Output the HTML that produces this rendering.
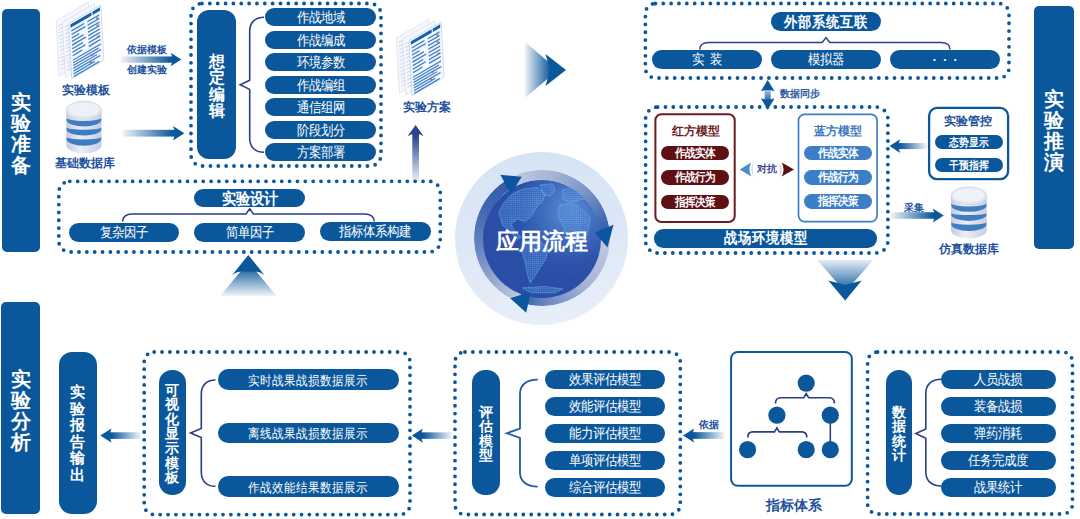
<!DOCTYPE html>
<html><head><meta charset="utf-8"><style>
*{margin:0;padding:0;box-sizing:border-box}
html,body{width:1080px;height:519px;overflow:hidden;background:#fff;font-family:"Liberation Sans",sans-serif}
#c{position:relative;width:1080px;height:519px}
svg{position:absolute;left:0;top:0}
.p{position:absolute;display:flex;align-items:center;justify-content:center;white-space:nowrap;line-height:1}
.vb{position:absolute}
.s{display:inline-block;transform:translateY(0.7px) scaleY(1.13)}
.ch{position:absolute;text-align:center;color:#fff;font-weight:bold}
.lb{position:absolute;text-align:center;white-space:nowrap}
</style></head><body><div id="c">
<svg width="1080" height="519" viewBox="0 0 1080 519"><defs><linearGradient id="g1" gradientUnits="userSpaceOnUse" x1="120.9" y1="0" x2="170.70000000000002" y2="0"><stop offset="0" stop-color="#0b579b" stop-opacity="0.06"/><stop offset="1" stop-color="#0b579b" stop-opacity="1"/></linearGradient><linearGradient id="g2" gradientUnits="userSpaceOnUse" x1="122.6" y1="0" x2="173.0" y2="0"><stop offset="0" stop-color="#0b579b" stop-opacity="0.06"/><stop offset="1" stop-color="#0b579b" stop-opacity="1"/></linearGradient><linearGradient id="g3" gradientUnits="userSpaceOnUse" x1="0" y1="181.4" x2="0" y2="136"><stop offset="0" stop-color="#29468f" stop-opacity="0.08"/><stop offset="1" stop-color="#29468f" stop-opacity="1"/></linearGradient><linearGradient id="g4" gradientUnits="userSpaceOnUse" x1="0" y1="268" x2="0" y2="296"><stop offset="0" stop-color="#0b579b" stop-opacity="0.95"/><stop offset="1" stop-color="#0b579b" stop-opacity="0.06"/></linearGradient><linearGradient id="g5" gradientUnits="userSpaceOnUse" x1="525" y1="0" x2="551" y2="0"><stop offset="0" stop-color="#0b579b" stop-opacity="0.07"/><stop offset="1" stop-color="#0b579b" stop-opacity="1"/></linearGradient><linearGradient id="g6" gradientUnits="userSpaceOnUse" x1="0" y1="89" x2="0" y2="100"><stop offset="0" stop-color="#b4c8e3" stop-opacity="1"/><stop offset="1" stop-color="#3f6fb2" stop-opacity="1"/></linearGradient><linearGradient id="g7" gradientUnits="userSpaceOnUse" x1="926.8" y1="0" x2="900.2" y2="0"><stop offset="0" stop-color="#0b579b" stop-opacity="0.06"/><stop offset="1" stop-color="#0b579b" stop-opacity="1"/></linearGradient><linearGradient id="g8" gradientUnits="userSpaceOnUse" x1="890.4" y1="0" x2="932.8" y2="0"><stop offset="0" stop-color="#0b579b" stop-opacity="0.06"/><stop offset="1" stop-color="#0b579b" stop-opacity="1"/></linearGradient><linearGradient id="g9" gradientUnits="userSpaceOnUse" x1="0" y1="259.7" x2="0" y2="292"><stop offset="0" stop-color="#0b579b" stop-opacity="0.1"/><stop offset="1" stop-color="#0b579b" stop-opacity="1"/></linearGradient><linearGradient id="g10" gradientUnits="userSpaceOnUse" x1="140.8" y1="0" x2="111.6" y2="0"><stop offset="0" stop-color="#0b579b" stop-opacity="0.06"/><stop offset="1" stop-color="#0b579b" stop-opacity="1"/></linearGradient><linearGradient id="g11" gradientUnits="userSpaceOnUse" x1="451.8" y1="0" x2="422.9" y2="0"><stop offset="0" stop-color="#0b579b" stop-opacity="0.06"/><stop offset="1" stop-color="#0b579b" stop-opacity="1"/></linearGradient><linearGradient id="g12" gradientUnits="userSpaceOnUse" x1="724.5" y1="0" x2="694.1999999999999" y2="0"><stop offset="0" stop-color="#0b579b" stop-opacity="0.06"/><stop offset="1" stop-color="#0b579b" stop-opacity="1"/></linearGradient></defs>
<g transform="matrix(1.07,-0.62,0.055,1.005,56.2,20.9)"><rect x="0" y="0" width="30" height="55" fill="#f5f7fc" stroke="#d5ddef" stroke-width="0.6"/><line x1="2" y1="6.0" x2="8.0" y2="6.0" stroke="#c3cfe8" stroke-width="0.9"/><line x1="2" y1="9.6" x2="9.5" y2="9.6" stroke="#c3cfe8" stroke-width="0.9"/><line x1="2" y1="13.2" x2="11.0" y2="13.2" stroke="#c3cfe8" stroke-width="0.9"/><line x1="2" y1="16.8" x2="8.0" y2="16.8" stroke="#c3cfe8" stroke-width="0.9"/><line x1="2" y1="20.4" x2="9.5" y2="20.4" stroke="#c3cfe8" stroke-width="0.9"/><line x1="2" y1="24.0" x2="11.0" y2="24.0" stroke="#c3cfe8" stroke-width="0.9"/><line x1="2" y1="27.6" x2="8.0" y2="27.6" stroke="#c3cfe8" stroke-width="0.9"/><line x1="2" y1="31.2" x2="9.5" y2="31.2" stroke="#c3cfe8" stroke-width="0.9"/><line x1="2" y1="34.8" x2="11.0" y2="34.8" stroke="#c3cfe8" stroke-width="0.9"/><line x1="2" y1="38.4" x2="8.0" y2="38.4" stroke="#c3cfe8" stroke-width="0.9"/><line x1="2" y1="42.0" x2="9.5" y2="42.0" stroke="#c3cfe8" stroke-width="0.9"/><line x1="2" y1="45.6" x2="11.0" y2="45.6" stroke="#c3cfe8" stroke-width="0.9"/><line x1="2" y1="49.2" x2="8.0" y2="49.2" stroke="#c3cfe8" stroke-width="0.9"/></g><g transform="matrix(1.07,-0.62,0.055,1.005,62.400000000000006,22.3)"><rect x="0" y="0" width="30" height="55" fill="#f5f7fc" stroke="#d5ddef" stroke-width="0.6"/><line x1="2" y1="6.0" x2="8.0" y2="6.0" stroke="#c3cfe8" stroke-width="0.9"/><line x1="2" y1="9.6" x2="9.5" y2="9.6" stroke="#c3cfe8" stroke-width="0.9"/><line x1="2" y1="13.2" x2="11.0" y2="13.2" stroke="#c3cfe8" stroke-width="0.9"/><line x1="2" y1="16.8" x2="8.0" y2="16.8" stroke="#c3cfe8" stroke-width="0.9"/><line x1="2" y1="20.4" x2="9.5" y2="20.4" stroke="#c3cfe8" stroke-width="0.9"/><line x1="2" y1="24.0" x2="11.0" y2="24.0" stroke="#c3cfe8" stroke-width="0.9"/><line x1="2" y1="27.6" x2="8.0" y2="27.6" stroke="#c3cfe8" stroke-width="0.9"/><line x1="2" y1="31.2" x2="9.5" y2="31.2" stroke="#c3cfe8" stroke-width="0.9"/><line x1="2" y1="34.8" x2="11.0" y2="34.8" stroke="#c3cfe8" stroke-width="0.9"/><line x1="2" y1="38.4" x2="8.0" y2="38.4" stroke="#c3cfe8" stroke-width="0.9"/><line x1="2" y1="42.0" x2="9.5" y2="42.0" stroke="#c3cfe8" stroke-width="0.9"/><line x1="2" y1="45.6" x2="11.0" y2="45.6" stroke="#c3cfe8" stroke-width="0.9"/><line x1="2" y1="49.2" x2="8.0" y2="49.2" stroke="#c3cfe8" stroke-width="0.9"/></g><g transform="matrix(1.07,-0.62,0.055,1.005,68.7,23.5)"><rect x="0" y="0" width="30" height="55" fill="#f6f8fc" stroke="#c3cde6" stroke-width="0.6"/><rect x="1.5" y="1.8" width="19.5" height="3.4" fill="#1361ad"/><rect x="22" y="1.8" width="7" height="3.4" fill="#1361ad"/><rect x="2" y="8.0" width="12" height="1.5" fill="#3f82cc"/><rect x="2" y="11.5" width="13" height="1.5" fill="#3f82cc"/><rect x="2" y="15.0" width="7" height="1.5" fill="#3f82cc"/><rect x="2" y="18.5" width="11" height="1.5" fill="#3f82cc"/><rect x="2" y="22.0" width="13" height="1.5" fill="#3f82cc"/><rect x="2" y="25.5" width="10" height="1.5" fill="#3f82cc"/><rect x="2" y="29.0" width="12" height="1.5" fill="#3f82cc"/><rect x="2" y="32.5" width="9" height="1.5" fill="#3f82cc"/><rect x="17" y="8.0" width="11" height="1.5" fill="#3f82cc"/><rect x="17" y="11.5" width="11" height="1.5" fill="#3f82cc"/><rect x="17" y="15.0" width="11" height="1.5" fill="#3f82cc"/><rect x="17" y="18.5" width="11" height="1.5" fill="#3f82cc"/><rect x="17" y="22.0" width="11" height="1.5" fill="#3f82cc"/><rect x="17" y="25.5" width="11" height="1.5" fill="#3f82cc"/><rect x="17" y="29.0" width="11" height="1.5" fill="#3f82cc"/><rect x="17" y="32.5" width="11" height="1.5" fill="#3f82cc"/><rect x="2" y="37.0" width="26" height="1.4" fill="#3f82cc"/><rect x="2" y="39.7" width="24" height="1.4" fill="#3f82cc"/><rect x="2" y="42.4" width="26" height="1.4" fill="#3f82cc"/><rect x="2" y="45.1" width="22" height="1.4" fill="#3f82cc"/><rect x="2" y="47.8" width="25" height="1.4" fill="#3f82cc"/><rect x="2" y="50.5" width="20" height="1.4" fill="#3f82cc"/><rect x="2" y="53.2" width="24" height="1.4" fill="#3f82cc"/><rect x="25" y="10" width="2" height="1.2" fill="#d05050"/><rect x="25" y="17" width="2" height="1.2" fill="#d05050"/><rect x="25" y="28" width="2" height="1.2" fill="#d05050"/><rect x="19" y="43" width="2" height="1.2" fill="#d05050"/><rect x="17" y="49" width="2" height="1.2" fill="#d05050"/></g>
<g transform="matrix(1.07,-0.62,0.055,1.005,396.5,37.9)"><rect x="0" y="0" width="30" height="55" fill="#f5f7fc" stroke="#d5ddef" stroke-width="0.6"/><line x1="2" y1="6.0" x2="8.0" y2="6.0" stroke="#c3cfe8" stroke-width="0.9"/><line x1="2" y1="9.6" x2="9.5" y2="9.6" stroke="#c3cfe8" stroke-width="0.9"/><line x1="2" y1="13.2" x2="11.0" y2="13.2" stroke="#c3cfe8" stroke-width="0.9"/><line x1="2" y1="16.8" x2="8.0" y2="16.8" stroke="#c3cfe8" stroke-width="0.9"/><line x1="2" y1="20.4" x2="9.5" y2="20.4" stroke="#c3cfe8" stroke-width="0.9"/><line x1="2" y1="24.0" x2="11.0" y2="24.0" stroke="#c3cfe8" stroke-width="0.9"/><line x1="2" y1="27.6" x2="8.0" y2="27.6" stroke="#c3cfe8" stroke-width="0.9"/><line x1="2" y1="31.2" x2="9.5" y2="31.2" stroke="#c3cfe8" stroke-width="0.9"/><line x1="2" y1="34.8" x2="11.0" y2="34.8" stroke="#c3cfe8" stroke-width="0.9"/><line x1="2" y1="38.4" x2="8.0" y2="38.4" stroke="#c3cfe8" stroke-width="0.9"/><line x1="2" y1="42.0" x2="9.5" y2="42.0" stroke="#c3cfe8" stroke-width="0.9"/><line x1="2" y1="45.6" x2="11.0" y2="45.6" stroke="#c3cfe8" stroke-width="0.9"/><line x1="2" y1="49.2" x2="8.0" y2="49.2" stroke="#c3cfe8" stroke-width="0.9"/></g><g transform="matrix(1.07,-0.62,0.055,1.005,402.7,39.3)"><rect x="0" y="0" width="30" height="55" fill="#f5f7fc" stroke="#d5ddef" stroke-width="0.6"/><line x1="2" y1="6.0" x2="8.0" y2="6.0" stroke="#c3cfe8" stroke-width="0.9"/><line x1="2" y1="9.6" x2="9.5" y2="9.6" stroke="#c3cfe8" stroke-width="0.9"/><line x1="2" y1="13.2" x2="11.0" y2="13.2" stroke="#c3cfe8" stroke-width="0.9"/><line x1="2" y1="16.8" x2="8.0" y2="16.8" stroke="#c3cfe8" stroke-width="0.9"/><line x1="2" y1="20.4" x2="9.5" y2="20.4" stroke="#c3cfe8" stroke-width="0.9"/><line x1="2" y1="24.0" x2="11.0" y2="24.0" stroke="#c3cfe8" stroke-width="0.9"/><line x1="2" y1="27.6" x2="8.0" y2="27.6" stroke="#c3cfe8" stroke-width="0.9"/><line x1="2" y1="31.2" x2="9.5" y2="31.2" stroke="#c3cfe8" stroke-width="0.9"/><line x1="2" y1="34.8" x2="11.0" y2="34.8" stroke="#c3cfe8" stroke-width="0.9"/><line x1="2" y1="38.4" x2="8.0" y2="38.4" stroke="#c3cfe8" stroke-width="0.9"/><line x1="2" y1="42.0" x2="9.5" y2="42.0" stroke="#c3cfe8" stroke-width="0.9"/><line x1="2" y1="45.6" x2="11.0" y2="45.6" stroke="#c3cfe8" stroke-width="0.9"/><line x1="2" y1="49.2" x2="8.0" y2="49.2" stroke="#c3cfe8" stroke-width="0.9"/></g><g transform="matrix(1.07,-0.62,0.055,1.005,409.0,40.5)"><rect x="0" y="0" width="30" height="55" fill="#f6f8fc" stroke="#c3cde6" stroke-width="0.6"/><rect x="1.5" y="1.8" width="19.5" height="3.4" fill="#1361ad"/><rect x="22" y="1.8" width="7" height="3.4" fill="#1361ad"/><rect x="2" y="8.0" width="12" height="1.5" fill="#3f82cc"/><rect x="2" y="11.5" width="13" height="1.5" fill="#3f82cc"/><rect x="2" y="15.0" width="7" height="1.5" fill="#3f82cc"/><rect x="2" y="18.5" width="11" height="1.5" fill="#3f82cc"/><rect x="2" y="22.0" width="13" height="1.5" fill="#3f82cc"/><rect x="2" y="25.5" width="10" height="1.5" fill="#3f82cc"/><rect x="2" y="29.0" width="12" height="1.5" fill="#3f82cc"/><rect x="2" y="32.5" width="9" height="1.5" fill="#3f82cc"/><rect x="17" y="8.0" width="11" height="1.5" fill="#3f82cc"/><rect x="17" y="11.5" width="11" height="1.5" fill="#3f82cc"/><rect x="17" y="15.0" width="11" height="1.5" fill="#3f82cc"/><rect x="17" y="18.5" width="11" height="1.5" fill="#3f82cc"/><rect x="17" y="22.0" width="11" height="1.5" fill="#3f82cc"/><rect x="17" y="25.5" width="11" height="1.5" fill="#3f82cc"/><rect x="17" y="29.0" width="11" height="1.5" fill="#3f82cc"/><rect x="17" y="32.5" width="11" height="1.5" fill="#3f82cc"/><rect x="2" y="37.0" width="26" height="1.4" fill="#3f82cc"/><rect x="2" y="39.7" width="24" height="1.4" fill="#3f82cc"/><rect x="2" y="42.4" width="26" height="1.4" fill="#3f82cc"/><rect x="2" y="45.1" width="22" height="1.4" fill="#3f82cc"/><rect x="2" y="47.8" width="25" height="1.4" fill="#3f82cc"/><rect x="2" y="50.5" width="20" height="1.4" fill="#3f82cc"/><rect x="2" y="53.2" width="24" height="1.4" fill="#3f82cc"/><rect x="25" y="10" width="2" height="1.2" fill="#d05050"/><rect x="25" y="17" width="2" height="1.2" fill="#d05050"/><rect x="25" y="28" width="2" height="1.2" fill="#d05050"/><rect x="19" y="43" width="2" height="1.2" fill="#d05050"/><rect x="17" y="49" width="2" height="1.2" fill="#d05050"/></g>
<g transform="translate(66.3,101.1) scale(0.978,1.000)"><defs><linearGradient id="dbs" x1="0" x2="1" y1="0" y2="0"><stop offset="0" stop-color="#c3cae2"/><stop offset="0.4" stop-color="#eceff7"/><stop offset="1" stop-color="#c6cce3"/></linearGradient></defs><path d="M0,9 L0,44 A18,8.3 0 0 0 36,44 L36,9 Z" fill="url(#dbs)"/><path d="M0.3,16.7 A17.7,3.1999999999999993 0 0 0 35.7,16.7 L35.7,18.9 A17.7,6.400000000000002 0 0 1 0.3,18.9 Z" fill="#3f7dc1"/><path d="M0.3,26.4 A17.7,2.200000000000003 0 0 0 35.7,26.4 L35.7,28.4 A17.7,6.100000000000001 0 0 1 0.3,28.4 Z" fill="#3f7dc1"/><path d="M0.3,35.9 A17.7,2.3999999999999986 0 0 0 35.7,35.9 L35.7,37.9 A17.7,6.800000000000004 0 0 1 0.3,37.9 Z" fill="#3f7dc1"/><ellipse cx="18" cy="9" rx="18" ry="9" fill="#e3e6f2" stroke="#d0d6ea" stroke-width="0.8"/><ellipse cx="18" cy="8.4" rx="15.5" ry="7" fill="#eff1f8"/></g>
<g transform="translate(951,186.9) scale(0.994,0.985)"><defs><linearGradient id="dbs" x1="0" x2="1" y1="0" y2="0"><stop offset="0" stop-color="#c3cae2"/><stop offset="0.4" stop-color="#eceff7"/><stop offset="1" stop-color="#c6cce3"/></linearGradient></defs><path d="M0,9 L0,44 A18,8.3 0 0 0 36,44 L36,9 Z" fill="url(#dbs)"/><path d="M0.3,16.7 A17.7,3.1999999999999993 0 0 0 35.7,16.7 L35.7,18.9 A17.7,6.400000000000002 0 0 1 0.3,18.9 Z" fill="#3f7dc1"/><path d="M0.3,26.4 A17.7,2.200000000000003 0 0 0 35.7,26.4 L35.7,28.4 A17.7,6.100000000000001 0 0 1 0.3,28.4 Z" fill="#3f7dc1"/><path d="M0.3,35.9 A17.7,2.3999999999999986 0 0 0 35.7,35.9 L35.7,37.9 A17.7,6.800000000000004 0 0 1 0.3,37.9 Z" fill="#3f7dc1"/><ellipse cx="18" cy="9" rx="18" ry="9" fill="#e3e6f2" stroke="#d0d6ea" stroke-width="0.8"/><ellipse cx="18" cy="8.4" rx="15.5" ry="7" fill="#eff1f8"/></g>
<rect x="120.9" y="56.45" width="53.80000000000001" height="6.3" fill="url(#g1)"/>
<polygon points="170.70000000000002,52.85 181.3,59.6 170.70000000000002,66.35 173.20000000000002,59.6" fill="#0b579b"/>
<rect x="122.6" y="129.79999999999998" width="54.400000000000006" height="6.8" fill="url(#g2)"/>
<polygon points="173.0,125.94999999999999 184.4,133.2 173.0,140.45 175.5,133.2" fill="#0b579b"/>
<rect x="191.0" y="3.5" width="190.0" height="162.5" rx="11" fill="none" stroke="#0b579b" stroke-width="3.8" stroke-dasharray="0 7.85" stroke-linecap="round"/>
<path d="M264,17.3 C254.70499999999998,17.3 249.7,22.900000000000002 249.7,31.3 L249.7,80.2 L240.2,84.8 L249.7,89.39999999999999 L249.7,138.3 C249.7,146.70000000000002 254.70499999999998,152.3 264,152.3" fill="none" stroke="#2a3f86" stroke-width="1.6" stroke-linejoin="miter"/>
<rect x="412.3" y="133" width="6.7" height="48.4" fill="url(#g3)"/>
<path d="M415.6,125 L423.6,136.2 Q419.5,133.8 415.6,133.8 Q411.7,133.8 407.6,136.2 Z" fill="#29468f"/>
<rect x="58.8" y="181.3" width="381.5" height="70.7" rx="11" fill="none" stroke="#0b579b" stroke-width="3.8" stroke-dasharray="0 7.85" stroke-linecap="round"/>
<path d="M122.7,221.5 C122.7,216.56 126.75,213.9 131.7,213.9 L245.89999999999998,213.9 L249.7,208.8 L253.5,213.9 L365.2,213.9 C370.15,213.9 374.2,216.56 374.2,221.5" fill="none" stroke="#2a3f86" stroke-width="1.5"/>
<polygon points="248.3,262 276.6,296 220.3,296" fill="url(#g4)"/>
<path d="M248.3,255 L264.8,275.6 Q261,271.8 255.6,271.4 L241,271.4 Q235.6,271.8 231.8,275.6 Z" fill="#0b579b"/>
<polygon points="525,42 558,70 525,98" fill="url(#g5)"/>
<polygon points="545.5,54 566,70 545.5,86 550,70" fill="#0b579b"/>
<rect x="645.4" y="3.5" width="363.6" height="74.5" rx="10" fill="none" stroke="#0b579b" stroke-width="3.8" stroke-dasharray="0 7.85" stroke-linecap="round"/>
<path d="M699.7,49.5 C699.7,44.885 703.75,42.4 708.7,42.4 L822.2,42.4 L826,37.6 L829.8,42.4 L941,42.4 C945.95,42.4 950,44.885 950,49.5" fill="none" stroke="#2a3f86" stroke-width="1.5"/>
<rect x="764.6" y="89" width="6.2" height="11" fill="url(#g6)"/>
<path d="M767.7,80 L774.6,91.2 Q767.7,88.6 760.8,91.2 Z" fill="#0b579b"/>
<path d="M767.7,109.7 L774.6,98.2 Q767.7,100.8 760.8,98.2 Z" fill="#0b579b"/>
<rect x="645.6" y="107.0" width="242.3" height="146.0" rx="12" fill="none" stroke="#0b579b" stroke-width="3.8" stroke-dasharray="0 7.85" stroke-linecap="round"/>
<rect x="655.4" y="114.3" width="79.3" height="107.7" rx="6" fill="#fff" stroke="#6e1b1f" stroke-width="2"/>
<rect x="798.5" y="114.3" width="78.6" height="107.3" rx="6" fill="#fff" stroke="#3d7fc4" stroke-width="1.7"/>
<path d="M739.8,169.5 L751.2,162.6 Q747.6,169.5 751.2,176.4 Z" fill="#4a8ad0"/>
<path d="M754,162.3 Q748.6,169.5 754,176.7 Q751.2,169.5 754,162.3 Z" fill="#c2d7ef"/>
<path d="M794,169.5 L781.7,162.5 Q785.3,169.5 781.7,176.6 Z" fill="#5e0f14"/>
<path d="M779,162.3 Q784.4,169.5 779,176.7 Q781.8,169.5 779,162.3 Z" fill="#dcbdb6"/>
<rect x="929.1" y="107.9" width="79" height="71.3" rx="8" fill="#fff" stroke="#0b579b" stroke-width="2.3"/>
<rect x="896.2" y="143.1" width="30.59999999999991" height="6" fill="url(#g7)"/>
<polygon points="900.2,139.15 889.5,146.1 900.2,153.04999999999998 897.7,146.1" fill="#0b579b"/>
<rect x="890.4" y="212.25" width="46.39999999999998" height="6.5" fill="url(#g8)"/>
<polygon points="932.8,208.4 943.8,215.5 932.8,222.6 935.3,215.5" fill="#0b579b"/>
<polygon points="816.9,259.7 873.5,259.7 845.2,292" fill="url(#g9)"/>
<polygon points="828.3,280.4 845.2,285 861.8,280.4 845.2,300.6" fill="#0b579b"/>
<rect x="107.6" y="432.3" width="33.20000000000002" height="6.6" fill="url(#g10)"/>
<polygon points="111.6,428.55 100.3,435.6 111.6,442.65000000000003 109.1,435.6" fill="#0b579b"/>
<rect x="144.2" y="352.0" width="265.8" height="162.6" rx="10" fill="none" stroke="#0b579b" stroke-width="3.8" stroke-dasharray="0 7.85" stroke-linecap="round"/>
<path d="M215.5,380 C206.27,380 201.3,385.6 201.3,394 L201.3,428.4 L190.5,433 L201.3,437.6 L201.3,472.3 C201.3,480.7 206.27,486.3 215.5,486.3" fill="none" stroke="#2a3f86" stroke-width="1.6" stroke-linejoin="miter"/>
<rect x="418.9" y="432.35" width="32.900000000000034" height="6.5" fill="url(#g11)"/>
<polygon points="422.9,428.55 411.9,435.6 422.9,442.65000000000003 420.4,435.6" fill="#0b579b"/>
<rect x="455.0" y="352.0" width="225.3" height="162.5" rx="10" fill="none" stroke="#0b579b" stroke-width="3.8" stroke-dasharray="0 7.85" stroke-linecap="round"/>
<path d="M537.7,379.7 C526.195,379.7 520,385.3 520,393.7 L520,428.59999999999997 L506.9,433.2 L520,437.8 L520,472.6 C520,481.0 526.195,486.6 537.7,486.6" fill="none" stroke="#1f5ca8" stroke-width="1.8" stroke-linejoin="miter"/>
<rect x="690.1999999999999" y="432.15" width="34.30000000000007" height="6.7" fill="url(#g12)"/>
<polygon points="694.1999999999999,428.45 682.9,435.5 694.1999999999999,442.55 691.6999999999999,435.5" fill="#0b579b"/>
<rect x="731.1" y="351.9" width="120.7" height="133.9" rx="6.7" fill="#fff" stroke="#0b579b" stroke-width="2"/>
<path d="M775.5,403.5 C775.5,399.73 777.75,397.7 780.5,397.7 L803.8000000000001,397.7 L806.2,393.6 L808.6,397.7 L829.4,397.7 C832.15,397.7 834.4,399.73 834.4,403.5" fill="none" stroke="#2a3f86" stroke-width="1.6"/>
<path d="M747.8,437.5 C747.8,433.85999999999996 750.05,431.9 752.8,431.9 L774.5,431.9 L776.9,427.8 L779.3,431.9 L801.8,431.9 C804.55,431.9 806.8,433.85999999999996 806.8,437.5" fill="none" stroke="#2a3f86" stroke-width="1.6"/>
<line x1="830.3" y1="415" x2="830.3" y2="450" stroke="#2a3f86" stroke-width="1.6"/>
<circle cx="806.2" cy="383.1" r="8.6" fill="#0b579b"/>
<circle cx="776.9" cy="415.2" r="8.6" fill="#0b579b"/>
<circle cx="830.3" cy="415.2" r="8.6" fill="#0b579b"/>
<circle cx="747.6" cy="449.7" r="8.6" fill="#0b579b"/>
<circle cx="806.2" cy="449.7" r="8.6" fill="#0b579b"/>
<circle cx="830.3" cy="449.7" r="8.6" fill="#0b579b"/>
<rect x="867.6" y="352.0" width="204.9" height="162.0" rx="10" fill="none" stroke="#0b579b" stroke-width="3.8" stroke-dasharray="0 7.85" stroke-linecap="round"/>
<path d="M941.4,379.3 C931.26,379.3 925.8,384.90000000000003 925.8,393.3 L925.8,429.0 L915.9,433.6 L925.8,438.20000000000005 L925.8,472 C925.8,480.4 931.26,486 941.4,486" fill="none" stroke="#2a3f86" stroke-width="1.6" stroke-linejoin="miter"/>
</svg>
<div style="position:absolute;left:455.0px;top:151.9px;width:173.2px;height:173.2px;border-radius:50%;background:linear-gradient(160deg, rgba(235,241,250,0) 55%, rgba(236,242,250,0.55) 100%), radial-gradient(circle at 50% 50%, rgba(255,255,255,0) 86%, rgba(140,185,235,0.6) 97%, rgba(165,200,238,0.45) 100%), linear-gradient(to bottom, #d5e4f5, #e4ecf8)"></div>
<div style="position:absolute;left:473.6px;top:170.4px;width:136px;height:136px;border-radius:50%;background:conic-gradient(from 335deg, #bfc8de 0.0deg, #a3b3d4 37.0deg, #7a93c6 69.4deg, #4067b0 100.8deg, #2f59a8 112.0deg, #c3cce1 112.0deg, #a5b4d5 162.8deg, #7089c0 200.1deg, #3f66b0 218.2deg, #2f59a8 225.0deg, #c0cae0 225.0deg, #a3b3d4 245.2deg, #6f8cc2 279.0deg, #4468b2 319.5deg, #2f59a8 360.0deg);-webkit-mask:radial-gradient(circle, transparent 58.1px, #000 58.6px);mask:radial-gradient(circle, transparent 58.1px, #000 58.6px)"></div>
<div style="position:absolute;left:482.79999999999995px;top:179.5px;width:118px;height:118px;border-radius:50%;background:radial-gradient(circle at 74% 26%, rgba(125,180,236,0.62) 0%, rgba(95,150,222,0.38) 24%, rgba(70,120,205,0.12) 42%, rgba(60,110,200,0) 55%), radial-gradient(circle at 50% 50%, #2a4fa8 0%, #2a4ea6 78%, #2f5ab0 90%, #3e74c2 97%, #4d88cf 100%)"></div>
<svg width="1080" height="519" viewBox="0 0 1080 519" style="position:absolute;left:0;top:0"><defs><clipPath id="gc"><circle cx="541.8" cy="238.5" r="59"/></clipPath><pattern id="gdots" width="2.1" height="2.1" patternUnits="userSpaceOnUse"><circle cx="1.05" cy="1.05" r="0.6" fill="#8fd0ff"/></pattern></defs><g clip-path="url(#gc)"><polygon points="498.8,212.6 503.8,202.6 512.6,193.8 523.9,188.8 537.6,187.5 545.2,193.8 542.7,201.3 536.4,207.6 531.4,216.4 525.1,221.4 517.6,218.9 511.3,223.9 513.8,230.1 521.4,237.7 517.6,238.9 508.8,231.4 502.6,225.1" fill="#4a82cf" fill-opacity="0.38"/><polygon points="540.2,185.0 552.7,183.8 555.2,190.0 550.2,196.3 543.9,195.1" fill="#4a82cf" fill-opacity="0.38"/><polygon points="562.7,190.0 575.2,186.3 585.3,190.0 590.3,197.6 579.0,200.1 570.2,202.6 562.7,198.8" fill="#4a82cf" fill-opacity="0.38"/><polygon points="560.2,205.1 572.7,203.8 582.8,210.1 590.3,217.6 587.8,232.6 580.3,245.2 575.2,250.2 569.0,242.7 565.2,230.1 560.2,220.1 557.7,212.6" fill="#4a82cf" fill-opacity="0.38"/><polygon points="522.6,241.4 537.6,238.9 547.7,247.7 546.4,257.7 540.2,267.7 533.9,277.8 530.1,282.8 527.6,275.3 525.1,262.7 521.4,250.2" fill="#4a82cf" fill-opacity="0.38"/><polygon points="522.6,287.8 545.2,286.5 562.7,289.0 555.2,292.8 530.1,292.8" fill="#4a82cf" fill-opacity="0.38"/><polygon points="498.8,212.6 503.8,202.6 512.6,193.8 523.9,188.8 537.6,187.5 545.2,193.8 542.7,201.3 536.4,207.6 531.4,216.4 525.1,221.4 517.6,218.9 511.3,223.9 513.8,230.1 521.4,237.7 517.6,238.9 508.8,231.4 502.6,225.1" fill="url(#gdots)" fill-opacity="0.45"/><polygon points="540.2,185.0 552.7,183.8 555.2,190.0 550.2,196.3 543.9,195.1" fill="url(#gdots)" fill-opacity="0.45"/><polygon points="562.7,190.0 575.2,186.3 585.3,190.0 590.3,197.6 579.0,200.1 570.2,202.6 562.7,198.8" fill="url(#gdots)" fill-opacity="0.45"/><polygon points="560.2,205.1 572.7,203.8 582.8,210.1 590.3,217.6 587.8,232.6 580.3,245.2 575.2,250.2 569.0,242.7 565.2,230.1 560.2,220.1 557.7,212.6" fill="url(#gdots)" fill-opacity="0.45"/><polygon points="522.6,241.4 537.6,238.9 547.7,247.7 546.4,257.7 540.2,267.7 533.9,277.8 530.1,282.8 527.6,275.3 525.1,262.7 521.4,250.2" fill="url(#gdots)" fill-opacity="0.45"/><polygon points="522.6,287.8 545.2,286.5 562.7,289.0 555.2,292.8 530.1,292.8" fill="url(#gdots)" fill-opacity="0.45"/><polygon points="498.8,212.6 503.8,202.6 512.6,193.8 523.9,188.8 537.6,187.5 545.2,193.8 542.7,201.3 536.4,207.6 531.4,216.4 525.1,221.4 517.6,218.9 511.3,223.9 513.8,230.1 521.4,237.7 517.6,238.9 508.8,231.4 502.6,225.1" fill="none" stroke="#66bbf2" stroke-opacity="0.85" stroke-width="0.9" stroke-dasharray="1.1 0.7" stroke-linejoin="round"/><polygon points="540.2,185.0 552.7,183.8 555.2,190.0 550.2,196.3 543.9,195.1" fill="none" stroke="#66bbf2" stroke-opacity="0.85" stroke-width="0.9" stroke-dasharray="1.1 0.7" stroke-linejoin="round"/><polygon points="562.7,190.0 575.2,186.3 585.3,190.0 590.3,197.6 579.0,200.1 570.2,202.6 562.7,198.8" fill="none" stroke="#66bbf2" stroke-opacity="0.85" stroke-width="0.9" stroke-dasharray="1.1 0.7" stroke-linejoin="round"/><polygon points="560.2,205.1 572.7,203.8 582.8,210.1 590.3,217.6 587.8,232.6 580.3,245.2 575.2,250.2 569.0,242.7 565.2,230.1 560.2,220.1 557.7,212.6" fill="none" stroke="#66bbf2" stroke-opacity="0.85" stroke-width="0.9" stroke-dasharray="1.1 0.7" stroke-linejoin="round"/><polygon points="522.6,241.4 537.6,238.9 547.7,247.7 546.4,257.7 540.2,267.7 533.9,277.8 530.1,282.8 527.6,275.3 525.1,262.7 521.4,250.2" fill="none" stroke="#66bbf2" stroke-opacity="0.85" stroke-width="0.9" stroke-dasharray="1.1 0.7" stroke-linejoin="round"/><polygon points="522.6,287.8 545.2,286.5 562.7,289.0 555.2,292.8 530.1,292.8" fill="none" stroke="#66bbf2" stroke-opacity="0.85" stroke-width="0.9" stroke-dasharray="1.1 0.7" stroke-linejoin="round"/></g><polygon points="500.4,174.8 521.8,176.8 510.6,194.2" fill="#0d55a0"/><polygon points="594.8,232.6 613.5,224.8 607.5,247.5" fill="#0d55a0"/><polygon points="530.8,291.8 526.2,312.8 510.2,298.2" fill="#0d55a0"/></svg>
<div style="position:absolute;left:482px;top:226px;width:120px;height:30px;line-height:30px;text-align:center;color:#fff;font-weight:bold;font-size:23px;white-space:nowrap">应用流程</div>
<div class="vb" style="left:2.0px;top:9.0px;width:38.0px;height:243.0px;border-radius:5px;background:#0b579b"></div>
<div class="ch" style="left:2.0px;top:92.0px;width:38.0px;height:21.0px;font-size:20px;line-height:21.0px">实</div>
<div class="ch" style="left:2.0px;top:113.0px;width:38.0px;height:21.0px;font-size:20px;line-height:21.0px">验</div>
<div class="ch" style="left:2.0px;top:134.0px;width:38.0px;height:21.0px;font-size:20px;line-height:21.0px">准</div>
<div class="ch" style="left:2.0px;top:155.0px;width:38.0px;height:21.0px;font-size:20px;line-height:21.0px">备</div>
<div class="lb" style="left:-14.0px;top:83.0px;width:200px;font-size:12px;line-height:14px;color:#22519c;font-weight:bold;letter-spacing:0px">实验模板</div>
<div class="lb" style="left:-15.0px;top:156.0px;width:200px;font-size:12px;line-height:14px;color:#22519c;font-weight:bold;letter-spacing:0px">基础数据库</div>
<div class="lb" style="left:47.0px;top:44.0px;width:200px;font-size:10px;line-height:12px;color:#22519c;font-weight:bold;letter-spacing:0px">依据模板</div>
<div class="lb" style="left:47.0px;top:63.5px;width:200px;font-size:10px;line-height:12px;color:#22519c;font-weight:bold;letter-spacing:0px">创建实验</div>
<div class="vb" style="left:197.4px;top:10.2px;width:38.3px;height:149.1px;border-radius:12px;background:#0b579b"></div>
<div class="ch" style="left:197.4px;top:53.6px;width:38.3px;height:16.5px;font-size:16px;line-height:16.5px">想</div>
<div class="ch" style="left:197.4px;top:70.1px;width:38.3px;height:16.5px;font-size:16px;line-height:16.5px">定</div>
<div class="ch" style="left:197.4px;top:86.6px;width:38.3px;height:16.5px;font-size:16px;line-height:16.5px">编</div>
<div class="ch" style="left:197.4px;top:103.1px;width:38.3px;height:16.5px;font-size:16px;line-height:16.5px">辑</div>
<div class="p" style="left:265.0px;top:8.2px;width:111.4px;height:18.0px;border-radius:9.0px;background:#0b579b;color:#fff;font-size:12.2px;font-weight:normal;letter-spacing:0px;"><span class="s">作战地域</span></div>
<div class="p" style="left:265.0px;top:30.7px;width:111.4px;height:18.0px;border-radius:9.0px;background:#0b579b;color:#fff;font-size:12.2px;font-weight:normal;letter-spacing:0px;"><span class="s">作战编成</span></div>
<div class="p" style="left:265.0px;top:53.2px;width:111.4px;height:18.0px;border-radius:9.0px;background:#0b579b;color:#fff;font-size:12.2px;font-weight:normal;letter-spacing:0px;"><span class="s">环境参数</span></div>
<div class="p" style="left:265.0px;top:75.7px;width:111.4px;height:18.0px;border-radius:9.0px;background:#0b579b;color:#fff;font-size:12.2px;font-weight:normal;letter-spacing:0px;"><span class="s">作战编组</span></div>
<div class="p" style="left:265.0px;top:98.2px;width:111.4px;height:18.0px;border-radius:9.0px;background:#0b579b;color:#fff;font-size:12.2px;font-weight:normal;letter-spacing:0px;"><span class="s">通信组网</span></div>
<div class="p" style="left:265.0px;top:120.7px;width:111.4px;height:18.0px;border-radius:9.0px;background:#0b579b;color:#fff;font-size:12.2px;font-weight:normal;letter-spacing:0px;"><span class="s">阶段划分</span></div>
<div class="p" style="left:265.0px;top:143.2px;width:111.4px;height:18.0px;border-radius:9.0px;background:#0b579b;color:#fff;font-size:12.2px;font-weight:normal;letter-spacing:0px;"><span class="s">方案部署</span></div>
<div class="lb" style="left:327.0px;top:99.5px;width:200px;font-size:12px;line-height:14px;color:#22519c;font-weight:bold;letter-spacing:0px">实验方案</div>
<div class="p" style="left:193.8px;top:188.8px;width:111.5px;height:18.5px;border-radius:9.2px;background:#0b579b;color:#fff;font-size:14px;font-weight:bold;letter-spacing:0px;"><span class="s">实验设计</span></div>
<div class="p" style="left:68.8px;top:222.5px;width:110.2px;height:19.2px;border-radius:9.6px;background:#0b579b;color:#fff;font-size:12.2px;font-weight:normal;letter-spacing:0px;"><span class="s">复杂因子</span></div>
<div class="p" style="left:193.8px;top:222.5px;width:111.5px;height:19.2px;border-radius:9.6px;background:#0b579b;color:#fff;font-size:12.2px;font-weight:normal;letter-spacing:0px;"><span class="s">简单因子</span></div>
<div class="p" style="left:320.4px;top:222.0px;width:110.2px;height:19.0px;border-radius:9.5px;background:#0b579b;color:#fff;font-size:12.2px;font-weight:normal;letter-spacing:0px;"><span class="s">指标体系构建</span></div>
<div class="p" style="left:771.0px;top:12.0px;width:110.4px;height:18.8px;border-radius:9.4px;background:#0b579b;color:#fff;font-size:13.6px;font-weight:bold;letter-spacing:0px;"><span class="s">外部系统互联</span></div>
<div class="p" style="left:652.0px;top:49.5px;width:110.3px;height:19.0px;border-radius:9.5px;background:#0b579b;color:#fff;font-size:12px;font-weight:normal;letter-spacing:6px;padding-left:6px;"><span class="s">实装</span></div>
<div class="p" style="left:771.0px;top:49.5px;width:110.4px;height:19.0px;border-radius:9.5px;background:#0b579b;color:#fff;font-size:12px;font-weight:normal;letter-spacing:0px;"><span class="s">模拟器</span></div>
<div class="p" style="left:889.8px;top:49.5px;width:110.7px;height:19.0px;border-radius:9.5px;background:#0b579b;color:#fff;font-size:12px;font-weight:bold;letter-spacing:6.4px;padding-left:6.4px;"><span class="s">···</span></div>
<div class="vb" style="left:1034.0px;top:6.0px;width:39.5px;height:242.5px;border-radius:5px;background:#0b579b"></div>
<div class="ch" style="left:1034.0px;top:89.0px;width:39.5px;height:21.0px;font-size:20px;line-height:21.0px">实</div>
<div class="ch" style="left:1034.0px;top:110.0px;width:39.5px;height:21.0px;font-size:20px;line-height:21.0px">验</div>
<div class="ch" style="left:1034.0px;top:131.0px;width:39.5px;height:21.0px;font-size:20px;line-height:21.0px">推</div>
<div class="ch" style="left:1034.0px;top:152.0px;width:39.5px;height:21.0px;font-size:20px;line-height:21.0px">演</div>
<div class="lb" style="left:699.5px;top:88.1px;width:200px;font-size:10px;line-height:12px;color:#2d5aa0;font-weight:bold;letter-spacing:0px">数据同步</div>
<div class="lb" style="left:595.5px;top:124.3px;width:200px;font-size:12.3px;line-height:14.3px;color:#6e1b1f;font-weight:bold;letter-spacing:0px">红方模型</div>
<div class="p" style="left:661.3px;top:145.7px;width:67.7px;height:14.8px;border-radius:7.4px;background:#5f1015;color:#fff;font-size:10.2px;font-weight:bold;letter-spacing:0px;"><span class="s">作战实体</span></div>
<div class="p" style="left:661.3px;top:170.2px;width:67.7px;height:14.8px;border-radius:7.4px;background:#5f1015;color:#fff;font-size:10.2px;font-weight:bold;letter-spacing:0px;"><span class="s">作战行为</span></div>
<div class="p" style="left:661.3px;top:194.7px;width:67.7px;height:14.8px;border-radius:7.4px;background:#5f1015;color:#fff;font-size:10.2px;font-weight:bold;letter-spacing:0px;"><span class="s">指挥决策</span></div>
<div class="lb" style="left:737.9px;top:124.3px;width:200px;font-size:12.1px;line-height:14.1px;color:#3b79bb;font-weight:bold;letter-spacing:0px">蓝方模型</div>
<div class="p" style="left:803.6px;top:145.5px;width:68.2px;height:14.8px;border-radius:7.4px;background:#3d7fc6;color:#fff;font-size:10.2px;font-weight:bold;letter-spacing:0px;"><span class="s">作战实体</span></div>
<div class="p" style="left:803.6px;top:169.8px;width:68.2px;height:14.8px;border-radius:7.4px;background:#3d7fc6;color:#fff;font-size:10.2px;font-weight:bold;letter-spacing:0px;"><span class="s">作战行为</span></div>
<div class="p" style="left:803.6px;top:194.1px;width:68.2px;height:14.8px;border-radius:7.4px;background:#3d7fc6;color:#fff;font-size:10.2px;font-weight:bold;letter-spacing:0px;"><span class="s">指挥决策</span></div>
<div class="lb" style="left:667.1px;top:163.2px;width:200px;font-size:10px;line-height:12px;color:#3a4590;font-weight:bold;letter-spacing:0px">对抗</div>
<div class="p" style="left:653.8px;top:229.0px;width:223.7px;height:18.6px;border-radius:9.3px;background:#0b579b;color:#fff;font-size:13.7px;font-weight:bold;letter-spacing:0px;"><span class="s">战场环境模型</span></div>
<div class="lb" style="left:868.2px;top:114.6px;width:200px;font-size:11.9px;line-height:13.9px;color:#22519c;font-weight:bold;letter-spacing:0px">实验管控</div>
<div class="p" style="left:934.8px;top:135.4px;width:67.8px;height:13.9px;border-radius:7.0px;background:#0b579b;color:#fff;font-size:9.8px;font-weight:bold;letter-spacing:0px;"><span class="s">态势显示</span></div>
<div class="p" style="left:934.8px;top:157.6px;width:67.9px;height:14.6px;border-radius:7.3px;background:#0b579b;color:#fff;font-size:9.8px;font-weight:bold;letter-spacing:0px;"><span class="s">干预指挥</span></div>
<div class="lb" style="left:814.4px;top:201.5px;width:200px;font-size:10px;line-height:12px;color:#22519c;font-weight:bold;letter-spacing:0px">采集</div>
<div class="lb" style="left:868.7px;top:243.1px;width:200px;font-size:11.8px;line-height:13.8px;color:#22519c;font-weight:bold;letter-spacing:0px">仿真数据库</div>
<div class="vb" style="left:1.0px;top:302.4px;width:39.2px;height:212.0px;border-radius:5px;background:#0b579b"></div>
<div class="ch" style="left:1.0px;top:369.3px;width:39.2px;height:21.0px;font-size:20px;line-height:21.0px">实</div>
<div class="ch" style="left:1.0px;top:390.3px;width:39.2px;height:21.0px;font-size:20px;line-height:21.0px">验</div>
<div class="ch" style="left:1.0px;top:411.3px;width:39.2px;height:21.0px;font-size:20px;line-height:21.0px">分</div>
<div class="ch" style="left:1.0px;top:432.3px;width:39.2px;height:21.0px;font-size:20px;line-height:21.0px">析</div>
<div class="vb" style="left:58.9px;top:351.8px;width:38.0px;height:162.6px;border-radius:13px;background:#0b579b"></div>
<div class="ch" style="left:58.9px;top:384.0px;width:38.0px;height:16.5px;font-size:15.4px;line-height:16.5px">实</div>
<div class="ch" style="left:58.9px;top:400.5px;width:38.0px;height:16.5px;font-size:15.4px;line-height:16.5px">验</div>
<div class="ch" style="left:58.9px;top:417.0px;width:38.0px;height:16.5px;font-size:15.4px;line-height:16.5px">报</div>
<div class="ch" style="left:58.9px;top:433.5px;width:38.0px;height:16.5px;font-size:15.4px;line-height:16.5px">告</div>
<div class="ch" style="left:58.9px;top:450.0px;width:38.0px;height:16.5px;font-size:15.4px;line-height:16.5px">输</div>
<div class="ch" style="left:58.9px;top:466.5px;width:38.0px;height:16.5px;font-size:15.4px;line-height:16.5px">出</div>
<div class="vb" style="left:158.5px;top:370.4px;width:27.5px;height:124.2px;border-radius:13px;background:#0b579b"></div>
<div class="ch" style="left:158.5px;top:382.6px;width:27.5px;height:14.6px;font-size:14.3px;line-height:14.6px">可</div>
<div class="ch" style="left:158.5px;top:397.2px;width:27.5px;height:14.6px;font-size:14.3px;line-height:14.6px">视</div>
<div class="ch" style="left:158.5px;top:411.8px;width:27.5px;height:14.6px;font-size:14.3px;line-height:14.6px">化</div>
<div class="ch" style="left:158.5px;top:426.4px;width:27.5px;height:14.6px;font-size:14.3px;line-height:14.6px">显</div>
<div class="ch" style="left:158.5px;top:441.0px;width:27.5px;height:14.6px;font-size:14.3px;line-height:14.6px">示</div>
<div class="ch" style="left:158.5px;top:455.6px;width:27.5px;height:14.6px;font-size:14.3px;line-height:14.6px">模</div>
<div class="ch" style="left:158.5px;top:470.2px;width:27.5px;height:14.6px;font-size:14.3px;line-height:14.6px">板</div>
<div class="p" style="left:217.8px;top:369.3px;width:181.2px;height:20.7px;border-radius:10.3px;background:#0b579b;color:#fff;font-size:11.7px;font-weight:normal;letter-spacing:0px;"><span class="s">实时战果战损数据展示</span></div>
<div class="p" style="left:217.8px;top:422.8px;width:181.2px;height:20.7px;border-radius:10.3px;background:#0b579b;color:#fff;font-size:11.7px;font-weight:normal;letter-spacing:0px;"><span class="s">离线战果战损数据展示</span></div>
<div class="p" style="left:217.8px;top:476.3px;width:181.2px;height:20.7px;border-radius:10.3px;background:#0b579b;color:#fff;font-size:11.7px;font-weight:normal;letter-spacing:0px;"><span class="s">作战效能结果数据展示</span></div>
<div class="vb" style="left:472.4px;top:370.3px;width:27.6px;height:124.9px;border-radius:13px;background:#0b579b"></div>
<div class="ch" style="left:472.4px;top:404.6px;width:27.6px;height:14.5px;font-size:14px;line-height:14.5px">评</div>
<div class="ch" style="left:472.4px;top:419.1px;width:27.6px;height:14.5px;font-size:14px;line-height:14.5px">估</div>
<div class="ch" style="left:472.4px;top:433.6px;width:27.6px;height:14.5px;font-size:14px;line-height:14.5px">模</div>
<div class="ch" style="left:472.4px;top:448.1px;width:27.6px;height:14.5px;font-size:14px;line-height:14.5px">型</div>
<div class="p" style="left:544.8px;top:370.0px;width:120.7px;height:19.0px;border-radius:9.5px;background:#0b579b;color:#fff;font-size:12.2px;font-weight:normal;letter-spacing:0px;"><span class="s">效果评估模型</span></div>
<div class="p" style="left:544.8px;top:396.9px;width:120.7px;height:19.0px;border-radius:9.5px;background:#0b579b;color:#fff;font-size:12.2px;font-weight:normal;letter-spacing:0px;"><span class="s">效能评估模型</span></div>
<div class="p" style="left:544.8px;top:423.8px;width:120.7px;height:19.0px;border-radius:9.5px;background:#0b579b;color:#fff;font-size:12.2px;font-weight:normal;letter-spacing:0px;"><span class="s">能力评估模型</span></div>
<div class="p" style="left:544.8px;top:450.7px;width:120.7px;height:19.0px;border-radius:9.5px;background:#0b579b;color:#fff;font-size:12.2px;font-weight:normal;letter-spacing:0px;"><span class="s">单项评估模型</span></div>
<div class="p" style="left:544.8px;top:477.6px;width:120.7px;height:19.0px;border-radius:9.5px;background:#0b579b;color:#fff;font-size:12.2px;font-weight:normal;letter-spacing:0px;"><span class="s">综合评估模型</span></div>
<div class="lb" style="left:608.8px;top:418.6px;width:200px;font-size:10px;line-height:12px;color:#22519c;font-weight:bold;letter-spacing:0px">依据</div>
<div class="lb" style="left:693.8px;top:498.2px;width:200px;font-size:13.8px;line-height:15.8px;color:#22519c;font-weight:bold;letter-spacing:0px">指标体系</div>
<div class="vb" style="left:885.9px;top:370.3px;width:25.8px;height:124.9px;border-radius:13px;background:#0b579b"></div>
<div class="ch" style="left:885.9px;top:404.6px;width:25.8px;height:14.5px;font-size:14px;line-height:14.5px">数</div>
<div class="ch" style="left:885.9px;top:419.1px;width:25.8px;height:14.5px;font-size:14px;line-height:14.5px">据</div>
<div class="ch" style="left:885.9px;top:433.6px;width:25.8px;height:14.5px;font-size:14px;line-height:14.5px">统</div>
<div class="ch" style="left:885.9px;top:448.1px;width:25.8px;height:14.5px;font-size:14px;line-height:14.5px">计</div>
<div class="p" style="left:941.0px;top:370.0px;width:114.5px;height:19.0px;border-radius:9.5px;background:#0b579b;color:#fff;font-size:12.2px;font-weight:normal;letter-spacing:0px;"><span class="s">人员战损</span></div>
<div class="p" style="left:941.0px;top:396.9px;width:114.5px;height:19.0px;border-radius:9.5px;background:#0b579b;color:#fff;font-size:12.2px;font-weight:normal;letter-spacing:0px;"><span class="s">装备战损</span></div>
<div class="p" style="left:941.0px;top:423.8px;width:114.5px;height:19.0px;border-radius:9.5px;background:#0b579b;color:#fff;font-size:12.2px;font-weight:normal;letter-spacing:0px;"><span class="s">弹药消耗</span></div>
<div class="p" style="left:941.0px;top:450.7px;width:114.5px;height:19.0px;border-radius:9.5px;background:#0b579b;color:#fff;font-size:12.2px;font-weight:normal;letter-spacing:0px;"><span class="s">任务完成度</span></div>
<div class="p" style="left:941.0px;top:477.6px;width:114.5px;height:19.0px;border-radius:9.5px;background:#0b579b;color:#fff;font-size:12.2px;font-weight:normal;letter-spacing:0px;"><span class="s">战果统计</span></div>
</div></body></html>
